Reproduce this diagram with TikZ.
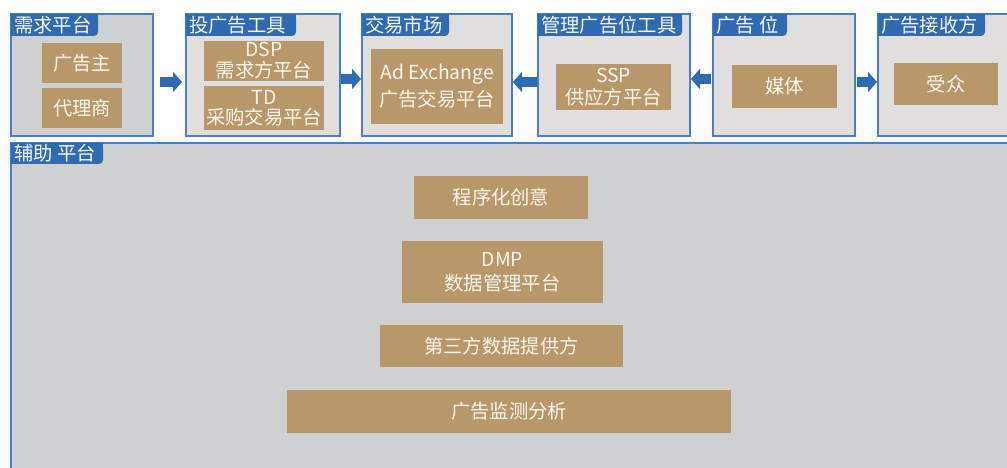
\documentclass[tikz,border=0pt]{standalone}
\usepackage{fontspec}
\setmainfont{Noto Sans CJK SC}
\usetikzlibrary{arrows.meta}
\definecolor{panelA}{HTML}{E0DFDE}
\definecolor{panelB}{HTML}{CFD0D2}
\definecolor{bord}{HTML}{4A7EC4}
\definecolor{tabc}{HTML}{2F6AB3}
\definecolor{tanbox}{HTML}{B8976A}
\definecolor{txt}{HTML}{FBF7F0}
\definecolor{arr}{HTML}{2E6BB5}
\newcommand{\mytab}[6]{%
  \fill[tabc, rounded corners=4pt] (#1,#2) rectangle (#3,#4);
  \fill[tabc] (#1,#2) rectangle (#3-5,#4);
  \fill[tabc] (#1,#2) rectangle (#3,#4-5);
  \node[tabtext] (#5) at (#1+3,{(#2+#4)/2}) {#6};}
\begin{document}
\begin{tikzpicture}[x=1pt,y=-1pt,
  panel/.style={draw=bord, line width=1.3pt, anchor=north west, inner sep=0pt, outer sep=0pt},
  item/.style={fill=tanbox, text=txt, inner sep=0pt, align=center, font=\fontsize{19.3}{23}\selectfont},
  tabtext/.style={text=txt, anchor=west, inner sep=0pt, font=\fontsize{19.3}{23}\selectfont},
  bigarrow/.style={draw=arr, line width=10pt, -{Triangle[width=20pt,length=9pt]}}]
\clip (0,0) rectangle (1007,468);
\fill[white] (0,0) rectangle (1007,468);
% panels
\node[panel, fill=panelB, minimum width=142pt, minimum height=122pt] (p1) at (11,14) {};
\node[panel, fill=panelA, minimum width=154pt, minimum height=122pt] (p2) at (186,14) {};
\node[panel, fill=panelA, minimum width=150pt, minimum height=122pt] (p3) at (362,14) {};
\node[panel, fill=panelA, minimum width=152pt, minimum height=122pt] (p4) at (538,14) {};
\node[panel, fill=panelA, minimum width=142pt, minimum height=122pt] (p5) at (713,14) {};
\node[panel, fill=panelA, minimum width=150pt, minimum height=122pt] (p6) at (878,14) {};
\node[panel, fill=panelB, minimum width=1010pt, minimum height=340pt] (pb) at (11,143) {};
% tabs
\mytab{11}{14}{98}{36}{t1}{需求平台}
\mytab{186}{14}{296}{36}{t2}{投广告工具}
\mytab{362}{14}{449}{36}{t3}{交易市场}
\mytab{538}{14}{682}{36}{t4}{管理广告位工具}
\mytab{713}{14}{787}{36}{t5}{广告 位}
\mytab{878}{14}{985}{36}{t6}{广告接收方}
\mytab{11}{143}{103}{164}{tb}{辅助 平台}
% items
\node[item, minimum width=80pt, minimum height=40pt] (a1) at (82,63) {广告主};
\node[item, minimum width=80pt, minimum height=40pt] (a2) at (82,108) {代理商};
\node[item, minimum width=120pt, minimum height=40pt, font=\fontsize{19.3}{21}\selectfont] (b1) at (264,61) {DSP\\需求方平台};
\node[item, minimum width=120pt, minimum height=44pt, font=\fontsize{19.3}{20}\selectfont] (b2) at (264,108) {TD\\采购交易平台};
\node[item, minimum width=132pt, minimum height=75pt, font=\fontsize{19.3}{27}\selectfont] (c1) at (437,86.5) {Ad Exchange\\广告交易平台};
\node[item, minimum width=115pt, minimum height=46pt, font=\fontsize{19.3}{22}\selectfont] (d1) at (613.5,87) {SSP\\供应方平台};
\node[item, minimum width=105pt, minimum height=43pt] (e1) at (784.5,86.5) {媒体};
\node[item, minimum width=104pt, minimum height=42pt] (f1) at (946,84) {受众};
\node[item, minimum width=174pt, minimum height=43pt] (g1) at (501,197.5) {程序化创意};
\node[item, minimum width=201pt, minimum height=62pt, font=\fontsize{19.3}{24}\selectfont] (g2) at (502.5,272) {DMP\\数据管理平台};
\node[item, minimum width=243pt, minimum height=42pt] (g3) at (501.5,346) {第三方数据提供方};
\node[item, minimum width=444pt, minimum height=43pt] (g4) at (509,411.5) {广告监测分析};
% arrows
\draw[bigarrow, shorten <=7pt, shorten >=4pt] ([yshift=-7pt]p1.east) -- ([yshift=-7pt]p2.west);
\draw[bigarrow, shorten <=1pt, shorten >=1pt] ([yshift=-4pt]p2.east) -- ([yshift=-4pt]p3.west);
\draw[bigarrow, shorten <=1pt, shorten >=1pt] ([yshift=-7pt]p4.west) -- ([yshift=-7pt]p3.east);
\draw[bigarrow, shorten <=2pt, shorten >=1pt] ([yshift=-4pt]p5.west) -- ([yshift=-4pt]p4.east);
\draw[bigarrow, shorten <=2pt, shorten >=1pt] ([yshift=-7pt]p5.east) -- ([yshift=-7pt]p6.west);
\end{tikzpicture}
\end{document}
